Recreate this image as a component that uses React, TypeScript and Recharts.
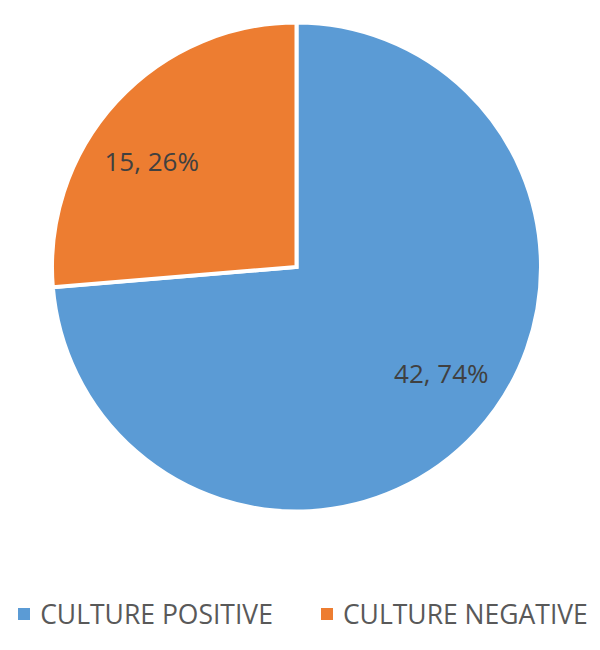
import { PieChart, Pie, Cell, Legend } from 'recharts';

const categories = ['CULTURE POSITIVE', 'CULTURE NEGATIVE'];
const counts = [42, 15];
const percents = ['74%', '26%'];
const colors = ['#5B9BD5', '#ED7D31'];

const data = categories.map((name, i) => ({
  name,
  value: counts[i],
  percent: percents[i],
}));

const RAD = Math.PI / 180;
const FONT = "'Open Sans', sans-serif";

// labels sit a bit flatter than the slice mid-angle, like the Excel original
function renderLabel(props: any) {
  const { cx, cy, midAngle, outerRadius, index } = props;
  const x = cx + outerRadius * 0.805 * Math.cos(-midAngle * RAD);
  const y = cy + outerRadius * 0.64 * Math.sin(-midAngle * RAD);
  return (
    <text
      x={x}
      y={y}
      fill="#404040"
      fontSize={26}
      fontFamily={FONT}
      textAnchor="middle"
      dominantBaseline="central"
    >
      {`${counts[index]}, ${percents[index]}`}
    </text>
  );
}

function renderLegend() {
  return (
    <div
      style={{
        display: 'flex',
        justifyContent: 'center',
        gap: 48,
        fontFamily: FONT,
        fontSize: 26.5,
        color: '#595959',
      }}
    >
      {categories.map((name, i) => (
        <div key={name} style={{ display: 'flex', alignItems: 'center' }}>
          <span
            style={{
              width: 12,
              height: 12,
              background: colors[i],
              marginRight: 10,
              display: 'inline-block',
            }}
          />
          <span>{name}</span>
        </div>
      ))}
    </div>
  );
}

export default function App() {
  return (
    <PieChart width={600} height={640}>
      <Pie
        data={data}
        dataKey="value"
        cx={283.5}
        cy={254}
        outerRadius={244.5}
        startAngle={90}
        endAngle={-270}
        stroke="#ffffff"
        strokeWidth={4}
        label={renderLabel}
        labelLine={false}
        isAnimationActive={false}
      >
        {data.map((d, i) => (
          <Cell key={d.name} fill={colors[i]} />
        ))}
      </Pie>
      <Legend
        content={renderLegend}
        wrapperStyle={{ top: 588, left: -5, width: 600 }}
      />
    </PieChart>
  );
}
